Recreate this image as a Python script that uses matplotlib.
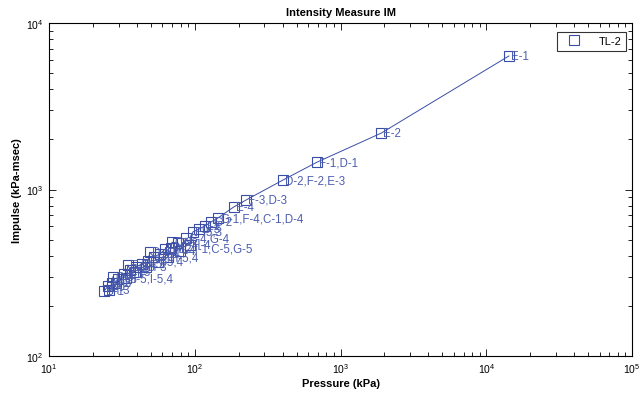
import matplotlib
matplotlib.use("Agg")
import matplotlib.pyplot as plt
from matplotlib.ticker import LogLocator, NullFormatter

plt.rcParams['font.family'] = ['Liberation Sans', 'DejaVu Sans']
plt.rcParams['mathtext.default'] = 'regular'

# 数据：压力 (kPa)、冲量 (kPa-msec) 与测点标签
pressure = [14300, 1900, 690, 403, 225, 185, 144, 129, 117.5, 107, 97, 87, 77,
            68.7, 62.5, 57.8, 52.5, 47.8, 43.5, 39.5, 36, 32.7, 29.7, 27, 25.4, 23.9,
            92.7, 79.2, 65.5, 56, 46.3, 38.9, 33.7, 28.8, 25.8,
            69.8, 49.3, 34.8, 27.5]
impulse = [6340, 2180, 1460, 1140, 865, 785, 674, 638, 604, 579, 556, 511, 477,
           445, 439, 410, 393, 372, 357, 343, 329, 311, 290, 274, 263, 246,
           464, 427, 393, 367, 343, 320, 294, 274, 249,
           482, 420, 352, 300]
labels = ['E-1', 'E-2', 'F-1,D-1', 'D-2,F-2,E-3', 'F-3,D-3', 'E-4', 'G-1,F-4,C-1,D-4',
          'G-2', 'I-2', 'G-3', 'F-5,3', 'C-4,G-4', 'B-2', 'H-2,I-1,C-5,G-5', 'H-1',
          'B-4', 'C-3', 'F-3', 'B-5', 'A-3', 'A-4', 'B-3', 'A-5', 'A-2', 'A-1', 'B-1',
          'H-4', 'I-4', 'H-5,4', 'I-5,4', 'H-3', 'I-3', 'H-5,I-5,4', 'I-5', 'H-3',
          'C-2', 'D-5', 'E-5', 'C-3']

series_name = 'TL-2'
title = 'Intensity Measure IM'
xlabel = 'Pressure (kPa)'
ylabel = 'Impulse (kPa-msec)'

line_color = '#3a4da6'
text_color = '#4d5eb0'

fig = plt.figure(figsize=(6.39, 4.02), dpi=100)
ax = fig.add_axes([0.0767, 0.1119, 0.9124, 0.8284])

# 按压力排序后连线
order = sorted(range(len(pressure)), key=lambda i: pressure[i])
ax.plot([pressure[i] for i in order], [impulse[i] for i in order],
        color=line_color, lw=0.7)
ax.plot(pressure, impulse, ls='none', marker='s', ms=6.5, mfc='none',
        mec=line_color, mew=0.8, label=series_name)

for x, y, t in zip(pressure, impulse, labels):
    ax.annotate(t, (x, y), xytext=(1.5, 0), textcoords='offset points',
                va='center', ha='left', fontsize=8.3, color=text_color)

ax.set_xscale('log')
ax.set_yscale('log')
ax.set_xlim(1e1, 1e5)
ax.set_ylim(1e2, 1e4)

ax.xaxis.set_major_locator(LogLocator(base=10, numticks=10))
ax.yaxis.set_major_locator(LogLocator(base=10, numticks=10))
ax.xaxis.set_minor_locator(LogLocator(base=10, subs=range(2, 10), numticks=20))
ax.yaxis.set_minor_locator(LogLocator(base=10, subs=range(2, 10), numticks=20))
ax.xaxis.set_minor_formatter(NullFormatter())
ax.yaxis.set_minor_formatter(NullFormatter())

ax.tick_params(which='both', direction='in', top=True, right=True,
               labelsize=7.5, width=0.6)
ax.tick_params(which='major', length=5, pad=4)
ax.tick_params(which='minor', length=3)
for s in ax.spines.values():
    s.set_linewidth(0.8)

ax.set_title(title, fontsize=8, fontweight='bold', pad=6)
ax.set_xlabel(xlabel, fontsize=8, fontweight='bold', labelpad=2)
ax.set_ylabel(ylabel, fontsize=8, fontweight='bold', labelpad=3)

leg = ax.legend(loc='upper right', fontsize=8, frameon=True, fancybox=False,
                borderpad=0.4, handlelength=2.2, handletextpad=1.2,
                bbox_to_anchor=(1.0, 0.99))
leg.get_frame().set_edgecolor('black')
leg.get_frame().set_linewidth(0.8)

fig.savefig('out.png', dpi=100)
